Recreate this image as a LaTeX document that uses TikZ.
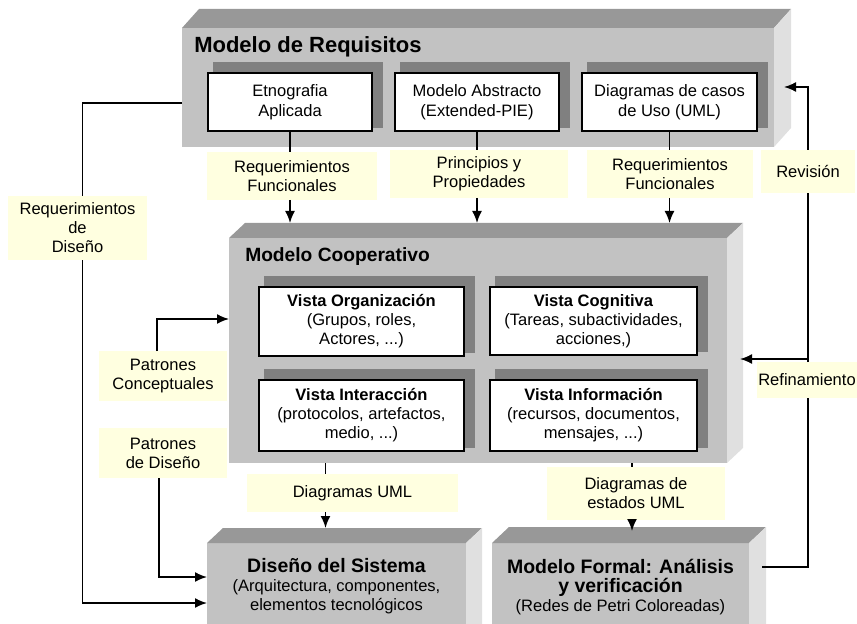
\documentclass[tikz,border=0pt]{standalone}
\usepackage{fontspec}
\setmainfont{Liberation Sans}
\usetikzlibrary{fit,calc,arrows.meta}
\definecolor{frontc}{RGB}{194,194,194}
\definecolor{bevelc}{RGB}{152,152,152}
\definecolor{sidec}{RGB}{224,224,224}
\definecolor{shadowc}{RGB}{128,128,128}
\definecolor{notec}{RGB}{255,255,224}
\pgfdeclarelayer{back}
\pgfdeclarelayer{mid}
\pgfsetlayers{back,mid,main}
\newcommand{\bevelfor}[3]{%
  \begin{pgfonlayer}{back}
  \fill[bevelc] (#1.north west) -- ++(#2,-#3) -- ($(#1.north east)+(#2,-#3)$) -- (#1.north east) -- cycle;
  \fill[sidec] (#1.north east) -- ++(#2,-#3) -- ($(#1.south east)+(#2,-#3)$) -- (#1.south east) -- cycle;
  \end{pgfonlayer}}
\newcommand{\shadowfor}[1]{%
  \begin{pgfonlayer}{mid}
  \fill[shadowc] ($(#1.north west)+(6,-10)$) rectangle ($(#1.south east)+(10,-4)$);
  \end{pgfonlayer}}
% box with its text centred: style, text style, name, corner, corner, text
\newcommand{\tbox}[6]{%
  \node[#1, fit={#4 #5}] (#3) {};
  \node[#2] (#3-t) at (#3.center) {#6};}
\newcommand{\bigbf}{\bfseries\fontsize{14.6}{16.5}\selectfont}
\newcommand{\smallrm}{\mdseries\fontsize{12.4}{14.3}\selectfont}
\tikzset{
  frontbox/.style={fill=frontc, inner sep=0pt, outer sep=0pt},
  whitebox/.style={fill=white, draw=black, line width=1.3pt, inner sep=0pt},
  note/.style={fill=notec, inner sep=0pt, outer sep=0pt},
  wtext/.style={inner sep=0pt, align=center, font=\fontsize{12.4}{14.8}\selectfont},
  ntext/.style={inner sep=0pt, align=center, font=\fontsize{12.4}{14.3}\selectfont},
  bigtitle/.style={inner sep=0pt, anchor=west, font=\bfseries\fontsize{16.5}{18}\selectfont},
  midtitle/.style={inner sep=0pt, anchor=west, font=\bfseries\fontsize{14.4}{16}\selectfont},
  boxtext/.style={inner sep=0pt, align=center, font=\fontsize{12.4}{14.3}\selectfont},
  conn/.style={line width=1.3pt},
  arr/.style={conn, -{Latex[length=9pt,width=7.5pt]}},
}
\begin{document}
\begin{tikzpicture}[x=0.75pt,y=-0.75pt]
\useasboundingbox (0,0) rectangle (857,624);

\begin{pgfonlayer}{back}
\node[frontbox, fit={(182,28) (774,147)}] (req) {};
\node[frontbox, fit={(229,238) (727,463)}] (coop) {};
\node[frontbox, fit={(207,543) (466,640)}] (dis) {};
\node[frontbox, fit={(492,543) (749,640)}] (mf) {};
\end{pgfonlayer}
\bevelfor{req}{17}{19}
\bevelfor{coop}{16}{15}
\bevelfor{dis}{16}{15}
\bevelfor{mf}{17}{16}
\coordinate (cooptop) at ($(coop.north west)+(0,-15)$);
\coordinate (distop) at ($(dis.north west)+(0,-15)$);
\coordinate (mftop) at ($(mf.north west)+(0,-16)$);

% ---------- Modelo de Requisitos ----------
\node[bigtitle] (reqtitle) at (194,47) {Modelo de Requisitos};
\tbox{whitebox}{wtext}{etno}{(208,73)}{(372,131)}{Etnografia\\Aplicada}
\tbox{whitebox}{wtext}{abst}{(395,73)}{(559,131)}{Modelo Abstracto\\(Extended-PIE)}
\tbox{whitebox}{wtext}{casos}{(582,73)}{(757,131)}{Diagramas de casos\\de Uso (UML)}
\shadowfor{etno}
\shadowfor{abst}
\shadowfor{casos}

% ---------- Modelo Cooperativo ----------
\node[midtitle] (cooptitle) at (245,257) {Modelo Cooperativo};
\tbox{whitebox}{ntext}{org}{(259,287)}{(464,356)}{\textbf{Vista Organización}\\(Grupos, roles,\\Actores, ...)}
\tbox{whitebox}{ntext}{cog}{(490,287)}{(697,355)}{\textbf{Vista Cognitiva}\\(Tareas, subactividades,\\acciones,)}
\tbox{whitebox}{ntext}{inter}{(259,380)}{(464,451)}{\textbf{Vista Interacción}\\(protocolos, artefactos,\\medio, ...)}
\tbox{whitebox}{ntext}{info}{(490,380)}{(697,451)}{\textbf{Vista Información}\\(recursos, documentos,\\mensajes, ...)}
\shadowfor{org}
\shadowfor{cog}
\shadowfor{inter}
\shadowfor{info}

% ---------- bottom boxes ----------
\node[boxtext] (distext) at (336.5,586) {\bigbf Diseño del Sistema\\\smallrm (Arquitectura, componentes,\\\smallrm elementos tecnológicos};
\node[boxtext] (mftext) at (620.5,587) {\bigbf Modelo Formal: Análisis\\\bigbf y verificación\\\smallrm (Redes de Petri Coloreadas)};

% ---------- labels ----------
\tbox{note}{ntext}{rf1}{(207,152)}{(377,200)}{Requerimientos\\Funcionales}
\tbox{note}{ntext}{pp}{(390,150)}{(568,198)}{Principios y\\Propiedades}
\tbox{note}{ntext}{rf2}{(587,150)}{(753,198)}{Requerimientos\\Funcionales}
\tbox{note}{ntext}{rev}{(761,150)}{(855,193)}{Revisión}
\tbox{note}{ntext}{rdis}{(8,196)}{(147,260)}{Requerimientos\\de\\Diseño}
\tbox{note}{ntext}{pc}{(99,351)}{(227,401)}{Patrones\\Conceptuales}
\tbox{note}{ntext}{pd}{(99,428)}{(227,478)}{Patrones\\de Diseño}
\tbox{note}{ntext}{duml}{(247,474)}{(458,512)}{Diagramas UML}
\tbox{note}{ntext}{deuml}{(547,467)}{(725,520)}{Diagramas de\\estados UML}
\tbox{note}{ntext}{ref}{(757,362)}{(857,398)}{Refinamiento}

% ---------- connectors ----------
\draw[conn] (etno.south) -- (etno.south |- rf1.north);
\draw[arr] (etno.south |- rf1.south) -- (etno.south |- cooptop);
\draw[conn] (abst.south) -- (abst.south |- pp.north);
\draw[arr] (abst.south |- pp.south) -- (abst.south |- cooptop);
\draw[conn] (casos.south) -- (casos.south |- rf2.north);
\draw[arr] (casos.south |- rf2.south) -- (casos.south |- cooptop);

\coordinate (reqL) at ($(req.north west)+(0,75)$);
\coordinate (rdisX) at ($(rdis.north)+(5,0)$);
\draw[conn] (reqL) -| (rdisX);
\draw[arr] (rdisX |- rdis.south) |- ($(dis.north west)+(0,60)$);

\draw[arr] ($(pc.north)+(-6,0)$) |- ($(coop.north west)+(0,81)$);
\draw[arr] ($(pd.south)+(-4,0)$) |- ($(dis.north west)+(0,34)$);

\coordinate (dumlX) at ($(duml.north)+(-27,0)$);
\draw[conn] (dumlX |- coop.south) -- (dumlX);
\draw[arr] (dumlX |- duml.south) -- (dumlX |- distop);

\coordinate (deumlX) at ($(deuml.north)+(-4,0)$);
\draw[conn] (deumlX |- coop.south) -- (deumlX);
\draw[arr] (deumlX |- deuml.south) -- ($(deumlX |- mftop)+(0,4)$);

\coordinate (loopX) at (rev.south);
\coordinate (refY) at ($(coop.north east)+(13,121)$);
\draw[conn] ($(mf.north east)+(13,24)$) -| (loopX |- ref.south);
\draw[conn] (loopX |- ref.north) -- (rev.south);
\draw[arr] (loopX |- refY) -- (refY);
\draw[arr] (rev.north) |- ($(req.north east)+(10,59)$);
\end{tikzpicture}
\end{document}
